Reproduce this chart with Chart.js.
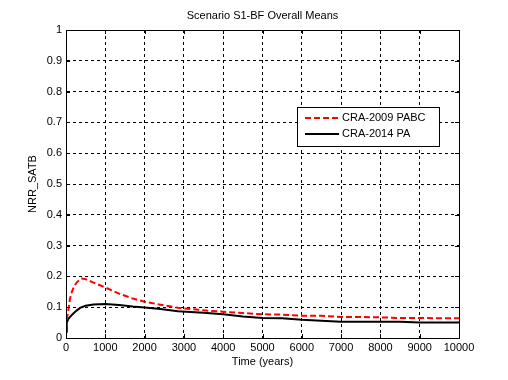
<!DOCTYPE html>
<html><head><meta charset="utf-8">
<script src="https://cdn.jsdelivr.net/npm/chart.js@4"></script>
<style>html,body{margin:0;padding:0;background:#fff;}canvas{display:block;}</style>
</head><body>
<canvas id="c" width="508" height="380"></canvas>
<script>
const chartTitle = 'Scenario S1-BF Overall Means';
const xTitle = 'Time (years)';
const yTitle = 'NRR_SATB';
const seriesNames = ['CRA-2009 PABC', 'CRA-2014 PA'];
const years = [0, 20, 60, 100, 150, 200, 270, 350, 400, 500, 700, 1000, 1350, 1700, 2000, 2400, 2850, 3500, 4000, 4500, 5000, 5500, 6000, 6500, 7000, 7500, 8000, 8500, 9000, 9500, 10000];
const pabc = [0.03, 0.06, 0.09, 0.127, 0.15, 0.166, 0.18, 0.19, 0.193, 0.191, 0.18, 0.164, 0.144, 0.128, 0.118, 0.108, 0.098, 0.09, 0.085, 0.081, 0.077, 0.076, 0.072, 0.072, 0.068, 0.068, 0.067, 0.065, 0.065, 0.064, 0.064];
const pa = [0.02, 0.05, 0.062, 0.068, 0.075, 0.081, 0.089, 0.097, 0.1, 0.105, 0.109, 0.11, 0.107, 0.102, 0.099, 0.094, 0.087, 0.082, 0.077, 0.07, 0.065, 0.064, 0.059, 0.056, 0.053, 0.053, 0.053, 0.053, 0.05, 0.05, 0.05];
const xTicks = [0,1000,2000,3000,4000,5000,6000,7000,8000,9000,10000];
const yTicks = [0,0.1,0.2,0.3,0.4,0.5,0.6,0.7,0.8,0.9,1];

const FONT = 'Arial, "Liberation Sans", sans-serif';
const font11 = {family: FONT, size: 11};

const framePlugin = {
  id: 'frame',
  afterDraw(chart) {
    const ctx = chart.ctx, a = chart.chartArea;
    const xs = chart.scales.x, ys = chart.scales.y;
    ctx.save();
    ctx.strokeStyle = '#000'; ctx.lineWidth = 1; ctx.setLineDash([]);
    ctx.strokeRect(Math.round(a.left) + 0.5, Math.round(a.top) + 0.5, Math.round(a.right - a.left), Math.round(a.bottom - a.top));
    ctx.beginPath();
    xTicks.forEach(v => {
      const px = Math.round(xs.getPixelForValue(v)) + 0.5;
      ctx.moveTo(px, a.bottom); ctx.lineTo(px, a.bottom - 4);
      ctx.moveTo(px, a.top); ctx.lineTo(px, a.top + 4);
    });
    yTicks.forEach(v => {
      const py = Math.round(ys.getPixelForValue(v)) + 0.5;
      ctx.moveTo(a.left, py); ctx.lineTo(a.left + 4, py);
      ctx.moveTo(a.right, py); ctx.lineTo(a.right - 4, py);
    });
    ctx.stroke();
    // title
    ctx.fillStyle = '#000';
    ctx.font = '11px ' + FONT;
    ctx.textAlign = 'center'; ctx.textBaseline = 'middle';
    ctx.fillText(chartTitle, (a.left + a.right) / 2, 16);
    // legend
    const lx = 297, ly = 107, lw = 142, lh = 39;
    ctx.fillStyle = '#fff';
    ctx.fillRect(lx, ly, lw, lh);
    ctx.strokeStyle = '#000';
    ctx.strokeRect(lx + 0.5, ly + 0.5, lw, lh);
    chart.data.datasets.forEach((ds, i) => {
      const y = ly + 11 + i * 16;
      ctx.save();
      ctx.strokeStyle = ds.borderColor; ctx.lineWidth = ds.borderWidth;
      ctx.setLineDash(ds.borderDash || []);
      ctx.beginPath(); ctx.moveTo(lx + 8, y); ctx.lineTo(lx + 42, y); ctx.stroke();
      ctx.restore();
      ctx.fillStyle = '#000'; ctx.textAlign = 'left'; ctx.textBaseline = 'middle';
      ctx.fillText(ds.label, lx + 45, y);
    });
    ctx.restore();
  }
};

new Chart(document.getElementById('c'), {
  type: 'line',
  data: {
    datasets: [
      {label: seriesNames[0], data: years.map((x, i) => ({x, y: pabc[i]})), borderColor: '#ff0000', borderDash: [6, 3], borderWidth: 2, pointRadius: 0, tension: 0, fill: false},
      {label: seriesNames[1], data: years.map((x, i) => ({x, y: pa[i]})), borderColor: '#000000', borderWidth: 2, pointRadius: 0, tension: 0, fill: false}
    ]
  },
  options: {
    responsive: false, animation: false, devicePixelRatio: 1,
    layout: {padding: {top: 30, right: 49, left: 0, bottom: 0}},
    plugins: {legend: {display: false}, title: {display: false}, tooltip: {enabled: false}},
    scales: {
      x: {
        type: 'linear', min: 0, max: 10000,
        afterBuildTicks(s) { s.ticks = xTicks.map(v => ({value: v})); },
        afterFit(s) { s.height = 42; },
        ticks: {color: '#000', font: font11, maxRotation: 0, padding: 3, autoSkip: false, callback: v => String(v)},
        grid: {color: '#000', lineWidth: 1, drawTicks: false},
        border: {display: true, color: '#000', dash: [3, 3]},
        title: {display: true, text: xTitle, color: '#000', font: font11, padding: {top: 0, bottom: 11}}
      },
      y: {
        min: 0, max: 1,
        afterBuildTicks(s) { s.ticks = yTicks.map(v => ({value: v})); },
        afterFit(s) { s.width = 66; },
        ticks: {color: '#000', font: font11, padding: 4, autoSkip: false, callback: v => String(Math.round(v * 10) / 10)},
        grid: {color: '#000', lineWidth: 1, drawTicks: false},
        border: {display: true, color: '#000', dash: [3, 3]},
        title: {display: true, text: yTitle, color: '#000', font: font11, padding: {top: 26, bottom: 0}}
      }
    }
  },
  plugins: [framePlugin]
});
</script>
</body></html>
